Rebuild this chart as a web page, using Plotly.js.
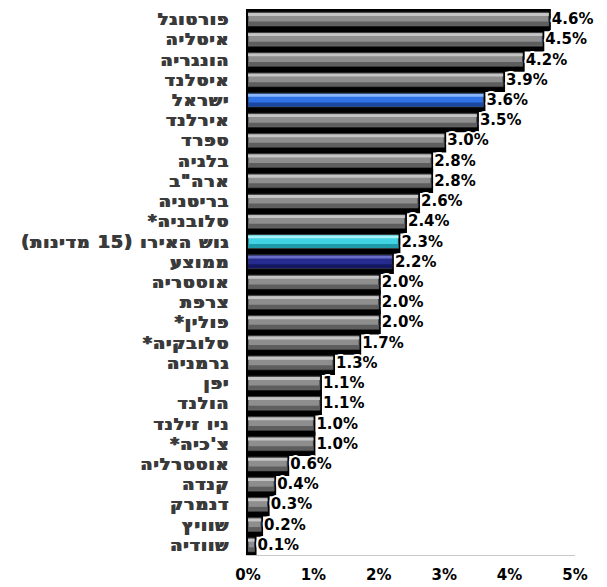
<!DOCTYPE html>
<html><head><meta charset="utf-8">
<script src="https://cdn.plot.ly/plotly-3.0.1.min.js"></script>
<style>html,body{margin:0;padding:0;background:#fff}
#chart .yaxislayer-above text{letter-spacing:1.3px}</style>
</head><body><div id="chart" style="width:607px;height:587px"></div>
<script>
const categories = ["פורטוגל","איטליה","הונגריה","איסלנד","ישראל","אירלנד","ספרד","בלגיה","ארה\"ב","בריטניה","סלובניה*","גוש האירו (15 מדינות)","ממוצע","אוסטריה","צרפת","פולין*","סלובקיה*","גרמניה","יפן","הולנד","ניו זילנד","צ'כיה*","אוסטרליה","קנדה","דנמרק","שוויץ","שוודיה"];
const values = [4.6,4.5,4.2,3.9,3.6,3.5,3.0,2.8,2.8,2.6,2.4,2.3,2.2,2.0,2.0,2.0,1.7,1.3,1.1,1.1,1.0,1.0,0.6,0.4,0.3,0.2,0.1];
const tickValues = [0,1,2,3,4,5];

const RLM = "\u200F";
const yLabels = categories.map(c => RLM + c + RLM);

const palette = {
  gray:  {mid:"#8e8e8e", light:"#c4c4c4", dark:"#5e5e5e"},
  israel:{mid:"#2f72e8", light:"#8ab6ff", dark:"#1b47a0"},
  euro:  {mid:"#3fd3e3", light:"#a8f4fa", dark:"#1f9aa8"},
  avg:   {mid:"#262b8f", light:"#6a70c8", dark:"#151860"}
};
function kind(c){
  if (c === "ישראל") return "israel";
  if (c.indexOf("גוש האירו") === 0) return "euro";
  if (c === "ממוצע") return "avg";
  return "gray";
}
const kinds = categories.map(kind);
const font = "DejaVu Sans, Liberation Sans, sans-serif";
const labelColor = "#3a3a3a";

const common = {type:"bar", orientation:"h", y:yLabels, x:values, hoverinfo:"skip", showlegend:false};
const traces = [
  Object.assign({}, common, {width:1.0, offset:-0.5,
    marker:{color:"#000", line:{color:"#000", width:4}}}),
  Object.assign({}, common, {width:0.68, offset:-0.34,
    marker:{color:kinds.map(k=>palette[k].mid), line:{color:"#3a3a3a", width:1}},
    text:values.map(v=>v.toFixed(1)+"%"), textposition:"outside", cliponaxis:false,
    constraintext:"none",
    textfont:{family:font, size:15, weight:"bold", color:"#000",
      shadow:"1px 1px 0 #fff, -1px -1px 0 #fff, 1px -1px 0 #fff, -1px 1px 0 #fff, 2px 0 0 #fff, -2px 0 0 #fff, 0 2px 0 #fff, 0 -2px 0 #fff"}}),
  Object.assign({}, common, {width:0.14, offset:-0.30,
    marker:{color:kinds.map(k=>palette[k].light), line:{width:0}}}),
  Object.assign({}, common, {width:0.2, offset:0.12,
    marker:{color:kinds.map(k=>palette[k].dark), line:{width:0}}})
];

const layout = {
  width:607, height:587,
  margin:{l:248, r:32, t:9, b:32},
  paper_bgcolor:"#fff", plot_bgcolor:"#fff",
  barmode:"overlay",
  font:{family:font},
  xaxis:{range:[0,5], tickvals:tickValues, ticktext:tickValues.map(v=>v+"%"),
    showgrid:false, zeroline:false, showline:true, linecolor:"#c8c8c8", linewidth:1,
    ticks:"", ticklabelstandoff:6,
    tickfont:{family:font, size:15, weight:"bold", color:"#000"}, fixedrange:true},
  yaxis:{autorange:"reversed", showgrid:false, zeroline:false, showline:true,
    linecolor:"#000", linewidth:2, ticks:"", ticklabelstandoff:13,
    tickfont:{family:font, size:17, weight:"bold", color:labelColor,
      shadow:"0.7px 0 0 " + labelColor + ", -0.7px 0 0 " + labelColor}, fixedrange:true}
};
Plotly.newPlot("chart", traces, layout, {displayModeBar:false, staticPlot:true});
</script></body></html>
